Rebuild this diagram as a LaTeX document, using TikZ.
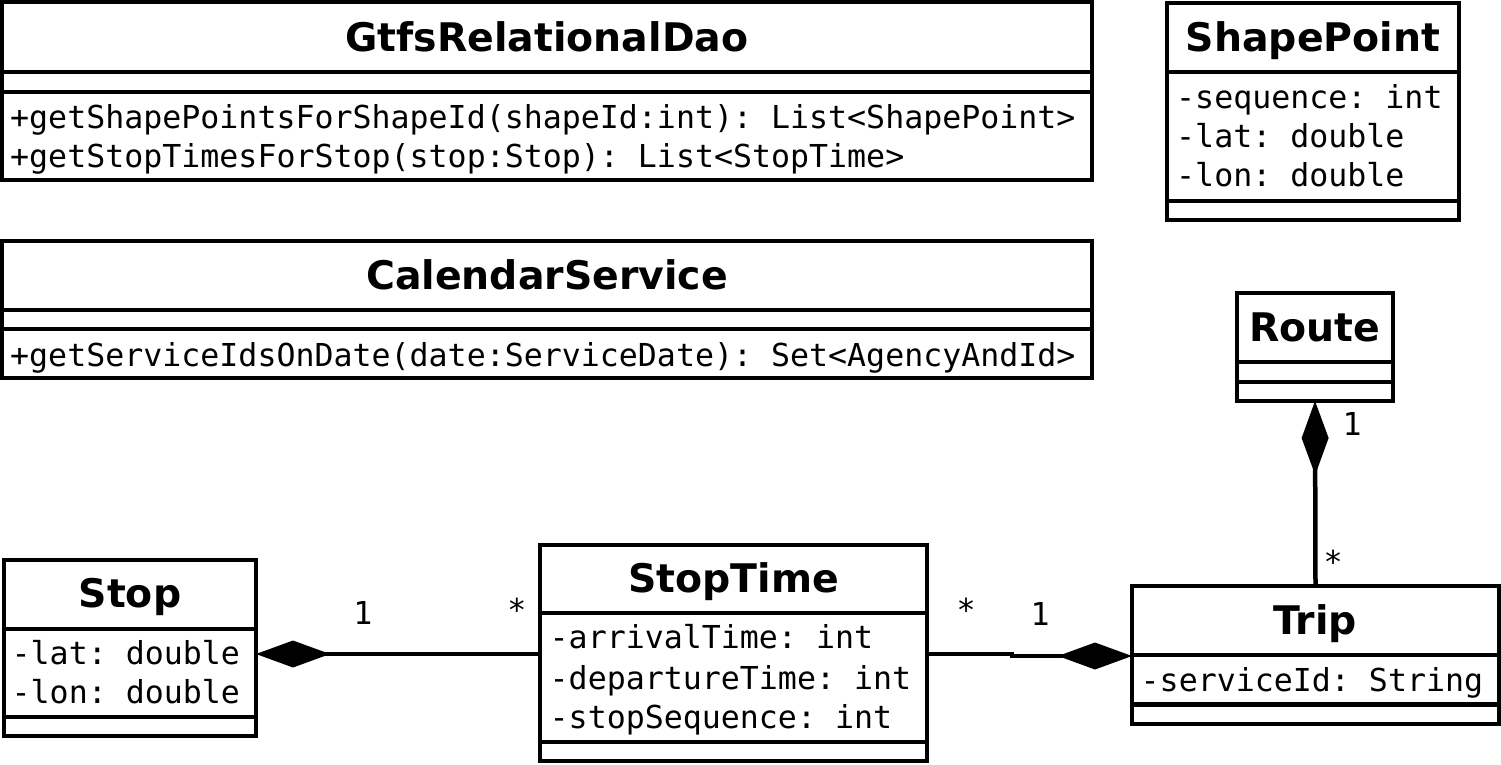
\documentclass[tikz,border=0pt]{standalone}
\usepackage{fontspec}
\setmainfont{DejaVu Sans}
\setmonofont{DejaVu Sans Mono}
\usetikzlibrary{arrows.meta}
\tikzset{
 cls/.style={draw, line width=4.5pt, outer sep=0pt, inner sep=0pt, anchor=north west},
 sepline/.style={line width=4.5pt},
 ttl/.style={anchor=base, inner sep=0pt, font=\fontsize{39.4}{47}\selectfont\bfseries},
 attr/.style={anchor=base west, inner sep=0pt, font=\fontsize{31.6}{38}\selectfont\ttfamily},
 mult/.style={inner sep=0pt, font=\fontsize{31.6}{38}\selectfont\ttfamily},
 comp/.style={line width=4.5pt, -{Diamond[length=74pt,width=27pt]}},
}
\begin{document}
\begin{tikzpicture}[x=1pt,y=-1pt]
\useasboundingbox (0,0) rectangle (1501,764);

% GtfsRelationalDao
\node[cls, minimum width=1090pt, minimum height=178pt] (dao) at (2,2) {};
\draw[sepline] (dao.west |- 0,72) -- (dao.east |- 0,72);
\draw[sepline] (dao.west |- 0,92) -- (dao.east |- 0,92);
\node[ttl] (daoT) at (547,51) {GtfsRelationalDao};
\node[attr] (daoM1) at (10,128) {+getShapePointsForShapeId(shapeId:int): List<ShapePoint>};
\node[attr] (daoM2) at (10,167) {+getStopTimesForStop(stop:Stop): List<StopTime>};

% CalendarService
\node[cls, minimum width=1090pt, minimum height=137pt] (cal) at (2,241) {};
\draw[sepline] (cal.west |- 0,310) -- (cal.east |- 0,310);
\draw[sepline] (cal.west |- 0,329) -- (cal.east |- 0,329);
\node[ttl] (calT) at (547,289) {CalendarService};
\node[attr] (calM1) at (10,366) {+getServiceIdsOnDate(date:ServiceDate): Set<AgencyAndId>};

% ShapePoint
\node[cls, minimum width=292pt, minimum height=217pt] (shp) at (1167,3) {};
\draw[sepline] (shp.west |- 0,72) -- (shp.east |- 0,72);
\draw[sepline] (shp.west |- 0,201) -- (shp.east |- 0,201);
\node[ttl] (shpT) at (1313,51) {ShapePoint};
\node[attr] (shpA1) at (1176,108) {-sequence: int};
\node[attr] (shpA2) at (1176,147) {-lat: double};
\node[attr] (shpA3) at (1176,186) {-lon: double};

% Route
\node[cls, minimum width=156pt, minimum height=108pt] (route) at (1237,293) {};
\draw[sepline] (route.west |- 0,362) -- (route.east |- 0,362);
\draw[sepline] (route.west |- 0,382) -- (route.east |- 0,382);
\node[ttl] (routeT) at (1315,341) {Route};

% Stop
\node[cls, minimum width=252pt, minimum height=176pt] (stop) at (4,560) {};
\draw[sepline] (stop.west |- 0,629) -- (stop.east |- 0,629);
\draw[sepline] (stop.west |- 0,717) -- (stop.east |- 0,717);
\node[ttl] (stopT) at (130,607) {Stop};
\node[attr] (stopA1) at (11.5,664) {-lat: double};
\node[attr] (stopA2) at (11.5,703) {-lon: double};

% StopTime
\node[cls, minimum width=387pt, minimum height=216pt] (st) at (540,545) {};
\draw[sepline] (st.west |- 0,613) -- (st.east |- 0,613);
\draw[sepline] (st.west |- 0,742) -- (st.east |- 0,742);
\node[ttl] (stT) at (733.5,592) {StopTime};
\node[attr] (stA1) at (549.5,648) {-arrivalTime: int};
\node[attr] (stA2) at (549.5,689) {-departureTime: int};
\node[attr] (stA3) at (549.5,728) {-stopSequence: int};

% Trip
\node[cls, minimum width=367pt, minimum height=138pt] (trip) at (1132,586) {};
\draw[sepline] (trip.west |- 0,655) -- (trip.east |- 0,655);
\draw[sepline] (trip.west |- 0,704.5) -- (trip.east |- 0,704.5);
\node[ttl] (tripT) at (1315,634) {Trip};
\node[attr] (tripA1) at (1140.5,691) {-serviceId: String};

% connectors
\draw[comp] (st.west |- 0,654) -- (stop.east |- 0,654);
\coordinate (jog) at (1012,654);
\draw[comp] (st.east |- 0,654) -- (jog) -- ++(0,2) -- (trip.west |- 0,656);
\draw[comp] (trip.north) -- (route.south);

% multiplicities
\node[mult] (m1) at (363,613) {1};
\node[mult] (m2) at (517,610) {*};
\node[mult] (m3) at (966,610) {*};
\node[mult] (m4) at (1040,614) {1};
\node[mult] (m5) at (1352,424) {1};
\node[mult] (m6) at (1333,562) {*};
\end{tikzpicture}
\end{document}
